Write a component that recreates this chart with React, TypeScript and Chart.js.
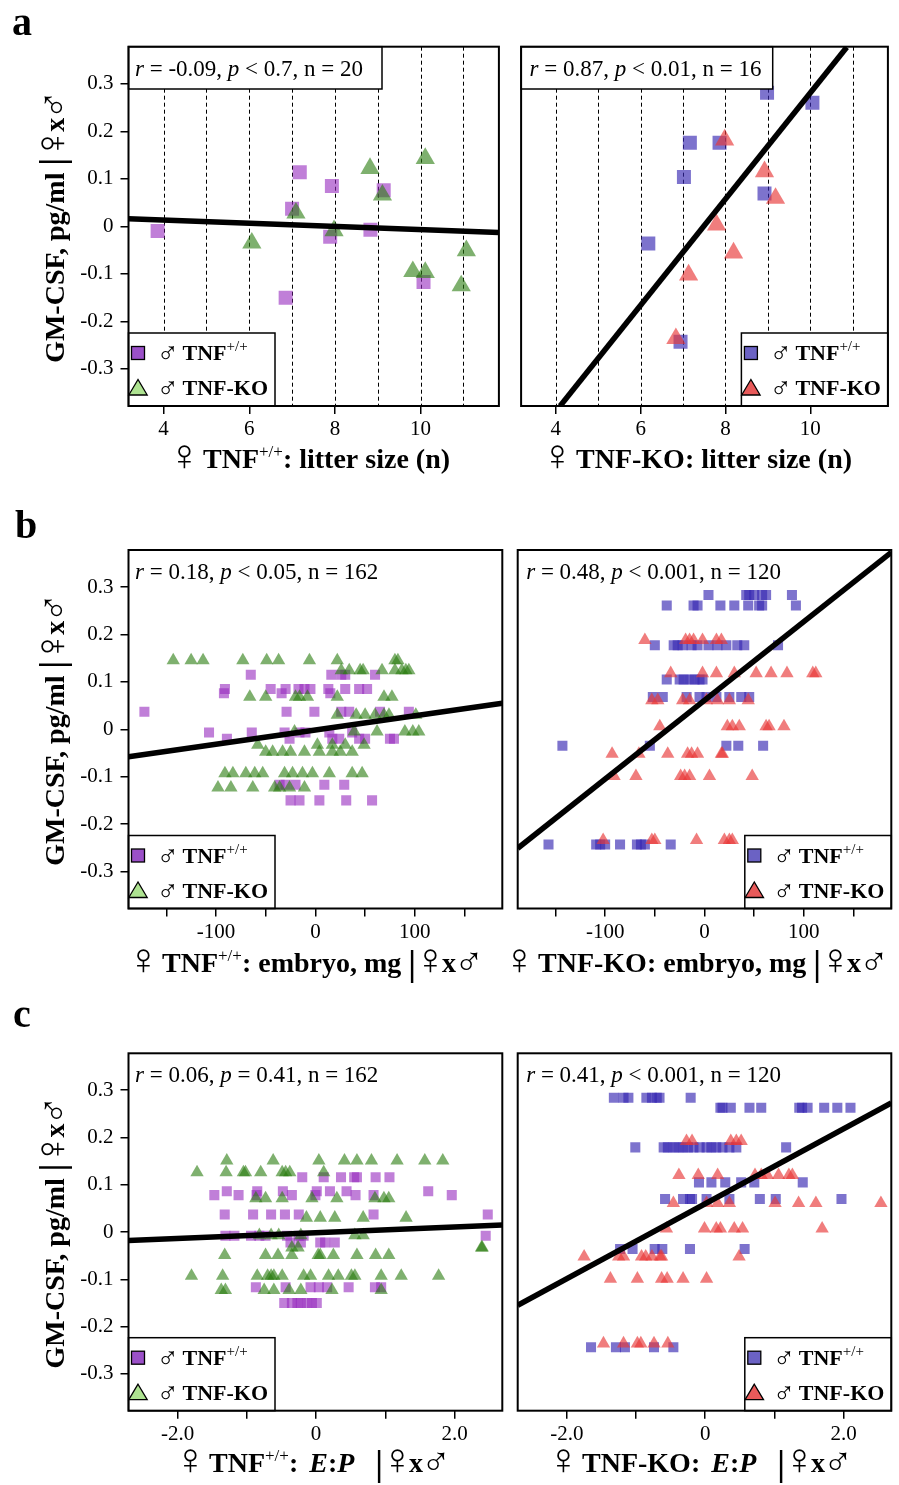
import React, { useEffect, useRef } from 'react';
import { Chart, registerables } from 'chart.js';

Chart.register(...registerables);

/* ============================ DATA ============================ */
// ---- panel a : litter size (n) ----
const litterRange = [3.18, 11.83];
const litterGrid = [4, 5, 6, 7, 8, 9, 10, 11];
const aLeftWtX = [3.86, 7.18, 7.93, 7.0, 9.14, 7.89, 8.83, 6.85, 10.07];
const aLeftWtY = [-0.01, 0.114, 0.085, 0.037, 0.076, -0.022, -0.007, -0.15, -0.117];
const aLeftKoX = [6.06, 8.82, 10.11, 9.11, 7.09, 7.98, 9.82, 10.11, 11.07, 10.95];
const aLeftKoY = [-0.035, 0.122, 0.143, 0.066, 0.028, -0.009, -0.095, -0.097, -0.051, -0.125];
const aLeftFitX = [3.18, 11.83];
const aLeftFitY = [0.016, -0.013];
const aRightWtX = [8.98, 10.05, 7.16, 7.86, 7.02, 8.92, 6.18, 6.94];
const aRightWtY = [0.281, 0.26, 0.176, 0.176, 0.104, 0.069, -0.036, -0.243];
const aRightKoX = [7.98, 8.92, 9.18, 7.79, 8.19, 7.13, 6.83];
const aRightKoY = [0.182, 0.115, 0.059, 0.003, -0.056, -0.102, -0.236];
const aRightFitX = [4.1, 10.86];
const aRightFitY = [-0.378, 0.377];

// ---- panel b : embryo, mg ----
const embryoRange = [-188, 188];
const bLeftWtLevels = [0.115, 0.085, 0.076, 0.037, -0.007, -0.02, -0.117, -0.15];
const bLeftWtX = [
  [-65, 16, 26, 30, 60],
  [-91, -45, -30, -17, -11, -5, 13, 30, 44, 52],
  [-92, -34, 15],
  [-172, -29, -1, 26, 34, 65, 94],
  [-107, -64, -31, -16, -10, 14, 37],
  [-89, -26, 17, 24, 44, 50, 75, 79],
  [-36, -30, -20, 9, 29],
  [-25, -16, 4, 31, 57],
];
const bLeftKoLevels = [0.145, 0.124, 0.068, 0.03, -0.005, -0.033, -0.048, -0.093, -0.123];
const bLeftKoX = [
  [-143, -125, -113, -73, -49, -37, -6, 22, 80, 83],
  [26, 34, 45, 48, 67, 80, 87, 91, 94],
  [-66, -50, -20, -16, -8, 22, 69, 77],
  [22, 41, 50, 60, 69, 74, 101],
  [-21, 39, 62, 90, 98, 104],
  [-58, 2, 17, 30, 49],
  [-50, -43, -33, -25, -11, 4, 17, 25, 37],
  [-91, -83, -70, -61, -53, -31, -23, -13, -3, 14, 37, 47],
  [-98, -85, -63, -41, -36, -26, -11],
];
const bLeftFitY = [-0.058, 0.055];
const bRightWtLevels = [0.283, 0.261, 0.177, 0.105, 0.068, -0.035, -0.243];
const bRightWtX = [
  [4, 42, 45, 50, 58, 62, 88],
  [-38, -11, -7, 16, 30, 44, 55, 58, 92],
  [-50, -31, -27, -22, -13, -7, 4, 13, 22, 33, 40, 74],
  [-38, -25, -21, -15, -10, -5, -2],
  [-52, -42, -18, -5, 2, 12, 25, 37, 45],
  [-143, -55, 22, 34, 59],
  [-157, -109, -105, -100, -85, -68, -64, -60, -34],
];
const bRightKoLevels = [0.188, 0.118, 0.061, 0.006, -0.052, -0.099, -0.234];
const bRightKoX = [
  [-60, -19, -15, -11, -2, 12, 17],
  [-34, -2, 12, 30, 52, 67, 83, 109, 112],
  [-53, -47, -22, -15, 2, 13, 25, 44],
  [-45, 23, 28, 35, 62, 65, 80],
  [-93, -66, -37, -17, -13, -7, 17, 18],
  [-91, -69, -24, -20, -15, 5, 48],
  [-102, -53, -50, -8, 20, 25, 28],
];
const bRightFitY = [-0.251, 0.373];

// ---- panel c : E:P ----
const epRange = [-2.71, 2.69];
const cLeftWtLevels = [0.116, 0.086, 0.078, 0.037, -0.008, -0.022, -0.117, -0.15];
const cLeftWtX = [
  [-0.2, 0.11, 0.36, 0.55, 0.59, 0.86, 1.06],
  [-1.29, -0.85, -0.48, 0.01, 0.2, 0.44, 1.62],
  [-1.47, -1.12, -0.86, -0.35, -0.01, 0.57, 0.83, 1.96],
  [-1.32, -0.91, -0.65, -0.45, -0.25, 0.83, 2.48],
  [-1.31, -1.18, -0.94, -0.82, -0.73, -0.42, -0.25, -0.18, 2.45],
  [-0.37, -0.22, 0.06, 0.13, 0.27],
  [-0.87, -0.44, -0.08, 0.04, 0.16, 0.47, 0.85, 0.94],
  [-0.46, -0.35, -0.27, -0.22, -0.13, -0.06, 0.01],
];
const cLeftKoLevels = [0.151, 0.126, 0.071, 0.03, -0.007, -0.033, -0.049, -0.093, -0.123];
const cLeftKoX = [
  [-1.29, -0.62, 0.04, 0.41, 0.59, 0.8, 1.17, 1.57, 1.83],
  [-1.72, -1.3, -1.05, -1.02, -0.8, -0.49, -0.44, -0.38, 0.11],
  [-0.87, -0.73, -0.49, -0.06, 0.3, 0.85, 0.98, 1.05],
  [-0.14, 0.06, 0.27, 0.68, 1.3],
  [-0.82, -0.65, -0.54, -0.22, 0.56, 0.68],
  [-0.35, -0.26, 2.39, 2.4],
  [-1.32, -0.73, -0.55, -0.35, 0.03, 0.06, 0.25, 0.59, 0.86, 1.05],
  [-1.8, -1.35, -0.85, -0.7, -0.65, -0.61, -0.49, -0.18, -0.08, 0.18, 0.32, 0.51, 0.56, 0.94, 1.23, 1.77],
  [-1.37, -1.31, -0.75, -0.61, -0.39, -0.22, 0.23, 0.94],
];
const cLeftFitY = [-0.018, 0.015];
const cRightWtLevels = [0.284, 0.263, 0.179, 0.105, 0.07, -0.036, -0.244];
const cRightWtX = [
  [-1.32, -1.18, -1.11, -0.85, -0.77, -0.7, -0.66, -0.21],
  [0.22, 0.25, 0.37, 0.64, 0.81, 1.36, 1.4, 1.48, 1.72, 1.91, 2.1],
  [-1.01, -0.6, -0.54, -0.46, -0.39, -0.32, -0.25, -0.17, -0.08, 0.02, 0.09, 0.16, 0.25, 0.35, 0.45, 1.17],
  [-0.09, 0.09, 0.29, 0.52, 0.71, 1.41],
  [-0.58, -0.32, -0.22, -0.19, 0.02, 0.35, 0.79, 1.02, 1.97],
  [-1.23, -1.05, -0.73, -0.62, -0.22, 0.57],
  [-1.65, -1.29, -1.16, -0.74, -0.46],
];
const cRightKoLevels = [0.192, 0.12, 0.061, 0.007, -0.052, -0.099, -0.236];
const cRightKoX = [
  [-0.27, -0.19, 0.37, 0.45, 0.52],
  [-0.38, -0.1, 0.18, 0.72, 0.81, 0.9, 1.06, 1.21, 1.26],
  [-0.46, 0.02, 0.18, 0.35, 1.01, 1.35, 1.6, 2.54],
  [-0.56, -0.01, 0.16, 0.22, 0.42, 0.54, 1.69],
  [-1.75, -1.25, -1.18, -0.92, -0.86, -0.77, -0.65, -0.63, 0.49],
  [-1.37, -0.98, -0.63, -0.55, -0.32, 0.02],
  [-1.47, -1.18, -0.98, -0.93, -0.74, -0.54],
];
const cRightFitY = [-0.155, 0.273];

// ---- shared axis / text ----
const gmRange = [-0.378, 0.378];
const statsR = ['-0.09', '0.87', '0.18', '0.48', '0.06', '0.41'];
const statsP = ['< 0.7', '< 0.01', '< 0.05', '< 0.001', '= 0.41', '< 0.001'];
const statsN = ['20', '16', '162', '120', '162', '120'];

/* ============================ STYLE ============================ */
const SERIF = '"Liberation Serif", "DejaVu Serif", serif';
const SYMF = '"DejaVu Sans ExtraLight", "DejaVu Sans", sans-serif';
const TB = `bold 28px ${SERIF}`;
const TSYM = `200 44px ${SYMF}`;
const TMALE = `200 40px ${SYMF}`;
const TBI = `italic bold 28px ${SERIF}`;
const TSUP = `17px ${SERIF}`;
const BAR = `bold 35px ${SERIF}`;
const ST = `23px ${SERIF}`;
const STI = `italic 23px ${SERIF}`;
const LB = `bold 22px ${SERIF}`;
const LSYM = `200 30px ${SYMF}`;
const LSUP = `15px ${SERIF}`;

const PURPLE = 'rgba(150,42,190,0.6)';
const GREEN = 'rgba(40,123,13,0.6)';
const BLUE = 'rgba(55,40,178,0.65)';
const RED = 'rgba(232,55,55,0.65)';

type Run = { t: string; f: string; dy?: number; dx?: number };
type Pt = { x: number; y: number };

const pairs = (xs: number[], ys: number[]): Pt[] => xs.map((x, i) => ({ x, y: ys[i] }));
const rows = (levels: number[], xs: number[][]): Pt[] =>
  levels.flatMap((lv, i) => xs[i].map((x) => ({ x, y: lv })));

function runsWidth(ctx: CanvasRenderingContext2D, runs: Run[]) {
  let w = 0;
  for (const r of runs) {
    ctx.font = r.f;
    w += ctx.measureText(r.t).width + (r.dx || 0);
  }
  return w;
}
function drawRuns(ctx: CanvasRenderingContext2D, runs: Run[], x: number, y: number) {
  let cx = x;
  for (const r of runs) {
    ctx.font = r.f;
    ctx.fillText(r.t, cx, y + (r.dy || 0));
    cx += ctx.measureText(r.t).width + (r.dx || 0);
  }
}

interface PanelCfg {
  side: 'left' | 'right';
  canvasTop: number;
  canvasH: number;
  areaTop: number;
  areaBottom: number;
  xRange: number[];
  xStep: number;
  xLabel: (v: number) => string;
  dashed?: number[];
  wt: Pt[];
  ko: Pt[];
  fit: Pt[];
  wtColor: string;
  koColor: string;
  wtLegend: string;
  koLegend: string;
  sqR: number;
  triR: number;
  idx: number;
  statsBox: boolean;
  statsBoxW: number;
  xTitle: Run[];
  xTitleX: number;
  titleBase: number;
  letter?: string;
  letterX?: number;
  letterBase?: number;
}

const AREA = { left: [128.5, 505], right: [516.7, 891.7] };
const CANVAS = { left: [0, 510], right: [510, 389] };

const femaleSym: Run = { t: '♀', f: TSYM, dy: 2, dx: -5 };
const femaleWt: Run[] = [
  femaleSym,
  { t: ' TNF', f: TB },
  { t: '+/+', f: TSUP, dy: -11 },
];
const femaleKo: Run[] = [femaleSym, { t: ' TNF-KO', f: TB }];
const crossSym: Run[] = [
  { t: '♀', f: TSYM, dy: 2, dx: -5 },
  { t: 'x', f: TB, dx: -2 },
  { t: '♂', f: TMALE, dy: 3 },
];
const cross: Run[] = [{ t: '|', f: BAR, dy: 3, dx: -2 }, ...crossSym];
const yTitle: Run[] = [
  { t: 'GM-CSF, pg/ml ', f: TB },
  { t: '|', f: BAR, dx: -2 },
  ...crossSym,
];

function makeDeco(cfg: PanelCfg) {
  const cLeft = CANVAS[cfg.side][0];
  return {
    id: 'deco' + cfg.idx,
    beforeDatasetsDraw(chart: any) {
      const { ctx, chartArea: a, scales } = chart;
      if (cfg.dashed) {
        ctx.save();
        ctx.strokeStyle = '#000';
        ctx.lineWidth = 1;
        ctx.setLineDash([4, 3]);
        for (const v of cfg.dashed) {
          const px = Math.round(scales.x.getPixelForValue(v)) + 0.5;
          ctx.beginPath();
          ctx.moveTo(px, a.top);
          ctx.lineTo(px, a.bottom);
          ctx.stroke();
        }
        ctx.restore();
      }
    },
    afterDatasetsDraw(chart: any) {
      const { ctx, chartArea: a } = chart;
      ctx.save();
      ctx.fillStyle = '#000';
      ctx.textBaseline = 'alphabetic';
      // statistics
      if (cfg.statsBox) {
        ctx.fillStyle = '#fff';
        ctx.fillRect(a.left, a.top, cfg.statsBoxW, 42.3);
        ctx.strokeStyle = '#000';
        ctx.lineWidth = 1.5;
        ctx.strokeRect(a.left, a.top, cfg.statsBoxW, 42.3);
        ctx.fillStyle = '#000';
      }
      const statRuns: Run[] = [
        { t: 'r', f: STI },
        { t: ` = ${statsR[cfg.idx]}, `, f: ST },
        { t: 'p', f: STI },
        { t: ` ${statsP[cfg.idx]}, n = ${statsN[cfg.idx]}`, f: ST },
      ];
      drawRuns(ctx, statRuns, a.left + (cfg.side === 'left' ? 6.5 : 8.5), a.top + (cfg.statsBox ? 29 : 28.5));

      // legend
      const lw = 146.5;
      const x0 = cfg.side === 'left' ? a.left : a.right - lw;
      const y0 = a.bottom - 73;
      ctx.fillStyle = '#fff';
      ctx.fillRect(x0, y0, lw, 73);
      ctx.strokeStyle = '#000';
      ctx.lineWidth = 1.5;
      ctx.strokeRect(x0, y0, lw, 73);
      // square marker
      ctx.fillStyle = cfg.wtLegend;
      ctx.lineWidth = 1.3;
      const sx = x0 + 9.5, sy = a.bottom - 53;
      ctx.fillRect(sx - 6.5, sy - 6.5, 13, 13);
      ctx.strokeRect(sx - 6.5, sy - 6.5, 13, 13);
      // triangle marker
      const tx = x0 + 9.5, ty = a.bottom - 18.5;
      ctx.beginPath();
      ctx.moveTo(tx, ty - 8);
      ctx.lineTo(tx - 9.2, ty + 7.5);
      ctx.lineTo(tx + 9.2, ty + 7.5);
      ctx.closePath();
      ctx.fillStyle = cfg.koLegend;
      ctx.fill();
      ctx.stroke();
      ctx.fillStyle = '#000';
      drawRuns(ctx, [{ t: '♂', f: LSYM }], x0 + 28, a.bottom - 43);
      drawRuns(ctx, [{ t: 'TNF', f: LB }, { t: '+/+', f: LSUP, dy: -9 }], x0 + 54, a.bottom - 46);
      drawRuns(ctx, [{ t: '♂', f: LSYM }], x0 + 28, a.bottom - 8);
      drawRuns(ctx, [{ t: 'TNF-KO', f: LB }], x0 + 54, a.bottom - 11);

      // frame
      ctx.strokeStyle = '#000';
      ctx.lineWidth = 2;
      ctx.strokeRect(a.left, a.top, a.right - a.left, a.bottom - a.top);
      ctx.restore();
    },
    afterDraw(chart: any) {
      const { ctx, chartArea: a } = chart;
      ctx.save();
      ctx.fillStyle = '#000';
      ctx.textBaseline = 'alphabetic';
      drawRuns(ctx, cfg.xTitle, cfg.xTitleX - cLeft, cfg.titleBase - cfg.canvasTop);
      if (cfg.side === 'left') {
        const cy = (a.top + a.bottom) / 2;
        ctx.save();
        ctx.translate(63.5, cy);
        ctx.rotate(-Math.PI / 2);
        const w = runsWidth(ctx, yTitle);
        drawRuns(ctx, yTitle, -w / 2, 0);
        ctx.restore();
        if (cfg.letter) {
          ctx.font = `bold 40px ${SERIF}`;
          ctx.fillText(cfg.letter, cfg.letterX!, cfg.letterBase! - cfg.canvasTop);
        }
      }
      ctx.restore();
    },
  };
}

function Panel({ cfg }: { cfg: PanelCfg }) {
  const ref = useRef<HTMLCanvasElement>(null);
  const [cl, cw] = CANVAS[cfg.side];
  const [al, ar] = AREA[cfg.side];
  useEffect(() => {
    const yw = al - cl;
    const padRight = cl + cw - ar;
    const padTop = cfg.areaTop - cfg.canvasTop;
    const xh = cfg.canvasTop + cfg.canvasH - cfg.areaBottom;
    const isLeft = cfg.side === 'left';
    const chart = new Chart(ref.current as HTMLCanvasElement, {
      type: 'scatter',
      data: {
        datasets: [
          {
            data: cfg.fit,
            showLine: true,
            borderColor: '#000',
            borderWidth: 5.5,
            borderCapStyle: 'butt',
            pointRadius: 0,
            clip: 0,
          } as any,
          {
            data: cfg.ko,
            pointStyle: 'triangle',
            pointRadius: cfg.triR,
            backgroundColor: cfg.koColor,
            borderWidth: 0,
          },
          {
            data: cfg.wt,
            pointStyle: 'rect',
            pointRadius: cfg.sqR,
            backgroundColor: cfg.wtColor,
            borderWidth: 0,
          },
        ],
      },
      options: {
        responsive: false,
        animation: false,
        devicePixelRatio: 1,
        events: [],
        layout: { padding: { top: padTop, right: padRight, left: 0, bottom: 0 } },
        plugins: { legend: { display: false }, tooltip: { enabled: false }, title: { display: false } },
        scales: {
          x: {
            type: 'linear',
            min: cfg.xRange[0],
            max: cfg.xRange[1],
            afterFit: (s: any) => {
              s.height = xh;
            },
            border: { display: false },
            grid: { display: true, drawOnChartArea: false, drawTicks: true, tickLength: 8, color: '#000', lineWidth: 1.5 },
            ticks: {
              stepSize: cfg.xStep,
              includeBounds: false,
              autoSkip: false,
              maxRotation: 0,
              padding: 3,
              color: '#000',
              font: { family: SERIF, size: 21 },
              callback: (v: any) => cfg.xLabel(Number(v)),
            },
          },
          y: {
            type: 'linear',
            min: gmRange[0],
            max: gmRange[1],
            afterFit: (s: any) => {
              s.width = yw;
            },
            border: { display: false },
            grid: { display: isLeft, drawOnChartArea: false, drawTicks: true, tickLength: 8, color: '#000', lineWidth: 1.5 },
            ticks: {
              display: isLeft,
              stepSize: 0.1,
              includeBounds: false,
              autoSkip: false,
              padding: 7,
              color: '#000',
              font: { family: SERIF, size: 21 },
              callback: (v: any) => {
                const r = Math.round(Number(v) * 10) / 10;
                return r === 0 ? '0' : r.toFixed(1);
              },
            },
          },
        },
      } as any,
      plugins: [makeDeco(cfg) as any],
    });
    return () => chart.destroy();
  }, []);
  return (
    <canvas
      ref={ref}
      width={cw}
      height={cfg.canvasH}
      style={{ position: 'absolute', left: cl, top: cfg.canvasTop, width: cw, height: cfg.canvasH }}
    />
  );
}

const litterLabel = (v: number) => String(v);
const embryoLabel = (v: number) => (Math.round(v) % 100 === 0 ? String(Math.round(v)) : '');
const epLabel = (v: number) => {
  const r = Math.round(v * 10) / 10;
  if (r === 0) return '0';
  return Math.abs(r) === 2 ? r.toFixed(1) : '';
};

const ROW_A = { canvasTop: 0, canvasH: 490, areaTop: 46.7, areaBottom: 406, titleBase: 468 };
const ROW_B = { canvasTop: 490, canvasH: 500, areaTop: 550, areaBottom: 908.5, titleBase: 972 };
const ROW_C = { canvasTop: 990, canvasH: 495, areaTop: 1053.3, areaBottom: 1410.7, titleBase: 1471.5 };

const LEFT_STYLE = { wtColor: PURPLE, koColor: GREEN, wtLegend: '#9b50c8', koLegend: '#aee391' };
const RIGHT_STYLE = { wtColor: BLUE, koColor: RED, wtLegend: '#6b62c4', koLegend: '#e85a5a' };

const epTitle = (female: Run[]): Run[] => [
  ...female,
  { t: ': ', f: TB, dx: 4 },
  { t: 'E', f: TBI },
  { t: ':', f: TB },
  { t: 'P', f: TBI },
  { t: '   ', f: TB },
  ...cross,
];

const panels: PanelCfg[] = [
  {
    side: 'left', ...ROW_A, ...LEFT_STYLE, idx: 0,
    xRange: litterRange, xStep: 2, xLabel: litterLabel, dashed: litterGrid,
    wt: pairs(aLeftWtX, aLeftWtY), ko: pairs(aLeftKoX, aLeftKoY), fit: pairs(aLeftFitX, aLeftFitY),
    sqR: 9.9, triR: 11.1, statsBox: true, statsBoxW: 253.5,
    xTitle: [...femaleWt, { t: ': litter size (n)', f: TB }], xTitleX: 168,
    letter: 'a', letterX: 12, letterBase: 35,
  },
  {
    side: 'right', ...ROW_A, ...RIGHT_STYLE, idx: 1,
    xRange: litterRange, xStep: 2, xLabel: litterLabel, dashed: litterGrid,
    wt: pairs(aRightWtX, aRightWtY), ko: pairs(aRightKoX, aRightKoY), fit: pairs(aRightFitX, aRightFitY),
    sqR: 9.9, triR: 11.1, statsBox: true, statsBoxW: 251.6,
    xTitle: [...femaleKo, { t: ': litter size (n)', f: TB }], xTitleX: 541,
  },
  {
    side: 'left', ...ROW_B, ...LEFT_STYLE, idx: 2,
    xRange: embryoRange, xStep: 50, xLabel: embryoLabel,
    wt: rows(bLeftWtLevels, bLeftWtX), ko: rows(bLeftKoLevels, bLeftKoX), fit: pairs(embryoRange, bLeftFitY),
    sqR: 7.1, triR: 7.7, statsBox: false, statsBoxW: 0,
    xTitle: [...femaleWt, { t: ': embryo, mg ', f: TB }, ...cross], xTitleX: 127,
    letter: 'b', letterX: 15, letterBase: 538,
  },
  {
    side: 'right', ...ROW_B, ...RIGHT_STYLE, idx: 3,
    xRange: embryoRange, xStep: 50, xLabel: embryoLabel,
    wt: rows(bRightWtLevels, bRightWtX), ko: rows(bRightKoLevels, bRightKoX), fit: pairs(embryoRange, bRightFitY),
    sqR: 7.1, triR: 7.7, statsBox: false, statsBoxW: 0,
    xTitle: [...femaleKo, { t: ': embryo, mg ', f: TB }, ...cross], xTitleX: 503,
  },
  {
    side: 'left', ...ROW_C, ...LEFT_STYLE, idx: 4,
    xRange: epRange, xStep: 1, xLabel: epLabel,
    wt: rows(cLeftWtLevels, cLeftWtX), ko: rows(cLeftKoLevels, cLeftKoX), fit: pairs(epRange, cLeftFitY),
    sqR: 7.1, triR: 7.7, statsBox: false, statsBoxW: 0,
    xTitle: epTitle(femaleWt), xTitleX: 174,
    letter: 'c', letterX: 13, letterBase: 1027,
  },
  {
    side: 'right', ...ROW_C, ...RIGHT_STYLE, idx: 5,
    xRange: epRange, xStep: 1, xLabel: epLabel,
    wt: rows(cRightWtLevels, cRightWtX), ko: rows(cRightKoLevels, cRightKoX), fit: pairs(epRange, cRightFitY),
    sqR: 7.1, triR: 7.7, statsBox: false, statsBoxW: 0,
    xTitle: epTitle(femaleKo), xTitleX: 547,
  },
];

export default function App() {
  return (
    <div style={{ position: 'absolute', left: 0, top: 0, width: 899, height: 1485, background: '#fff', overflow: 'hidden' }}>
      {panels.map((p) => (
        <Panel key={p.idx} cfg={p} />
      ))}
    </div>
  );
}
